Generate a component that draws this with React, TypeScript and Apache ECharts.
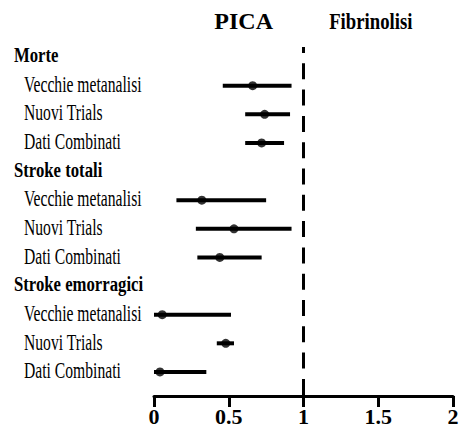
import React, { useEffect, useRef } from "react";
import * as echarts from "echarts";

// ---- data ----
const rowLabels = [
  "Morte",
  "Vecchie metanalisi",
  "Nuovi Trials",
  "Dati Combinati",
  "Stroke totali",
  "Vecchie metanalisi",
  "Nuovi Trials",
  "Dati Combinati",
  "Stroke emorragici",
  "Vecchie metanalisi",
  "Nuovi Trials",
  "Dati Combinati",
];
const isHeader = [true, false, false, false, true, false, false, false, true, false, false, false];
const estimates = [null, 0.66, 0.74, 0.72, null, 0.32, 0.535, 0.44, null, 0.055, 0.48, 0.04];
const lowerCI = [null, 0.46, 0.61, 0.61, null, 0.15, 0.28, 0.29, null, 0, 0.42, 0];
const upperCI = [null, 0.92, 0.91, 0.87, null, 0.75, 0.92, 0.72, null, 0.515, 0.535, 0.35];
const xTicks = [0, 0.5, 1, 1.5, 2];
const referenceValue = 1;
const panelTitles = ["PICA", "Fibrinolisi"];

const SERIF = "Liberation Serif";

export default function App() {
  const ref = useRef<HTMLDivElement>(null);

  useEffect(() => {
    document.body.style.margin = "0";
    if (!ref.current) return;
    const chart = echarts.init(ref.current, null, { renderer: "svg" });

    const ciData: any[] = [];
    const ptData: any[] = [];
    rowLabels.forEach((_, i) => {
      if (estimates[i] != null) {
        ciData.push([i, lowerCI[i], upperCI[i]]);
        ptData.push([estimates[i], i]);
      }
    });

    const option: any = {
      animation: false,
      textStyle: { fontFamily: SERIF },
      grid: { left: 154, right: 11, top: 47, bottom: 40 },
      xAxis: {
        type: "value",
        position: "bottom",
        min: xTicks[0],
        max: xTicks[xTicks.length - 1],
        interval: xTicks[1] - xTicks[0],
        axisLine: { show: true, onZero: false, lineStyle: { color: "#000", width: 3 } },
        axisTick: { show: true, length: 11, inside: false, lineStyle: { color: "#000", width: 3 } },
        splitLine: { show: false },
        axisLabel: {
          color: "#000",
          fontFamily: SERIF,
          fontWeight: "bold",
          fontSize: 22,
          margin: 9,
          formatter: (v: number) => String(v),
        },
      },
      yAxis: {
        type: "value",
        inverse: true,
        min: -0.35,
        max: 11.84,
        show: false,
      },
      series: [
        {
          type: "custom",
          data: ciData,
          encode: { x: [1, 2], y: 0 },
          renderItem: (params: any, api: any) => {
            const y = api.value(0);
            const p1 = api.coord([api.value(1), y]);
            const p2 = api.coord([api.value(2), y]);
            return {
              type: "line",
              shape: { x1: p1[0], y1: p1[1], x2: p2[0], y2: p2[1] },
              style: { stroke: "#000", lineWidth: 4 },
            };
          },
          z: 2,
        },
        {
          type: "scatter",
          data: ptData,
          symbol: "circle",
          symbolSize: 9,
          itemStyle: { color: "#000" },
          z: 3,
          markLine: {
            silent: true,
            symbol: ["none", "none"],
            label: { show: false },
            lineStyle: { color: "#000", width: 3, type: [16, 10.3], dashOffset: 10 },
            data: [{ xAxis: referenceValue }],
          },
        },
      ],
    };
    chart.setOption(option);

    const graphics: any[] = rowLabels.map((t, i) => {
      const py = chart.convertToPixel({ gridIndex: 0 }, [0, i])[1];
      const header = isHeader[i];
      return {
        type: "text",
        x: header ? 14 : 24,
        y: py - 2,
        scaleX: header ? 0.76 : 0.68,
        style: {
          text: t,
          fontFamily: SERIF,
          fontWeight: header ? "bold" : "normal",
          fontSize: header ? 22 : 23,
          fill: "#000",
          align: "left",
          verticalAlign: "middle",
        },
      };
    });
    const titleX = [
      chart.convertToPixel({ gridIndex: 0 }, [0.6, 0])[0],
      chart.convertToPixel({ gridIndex: 0 }, [1.45, 0])[0],
    ];
    const titleScale = [1.0, 0.78];
    panelTitles.forEach((t, k) => {
      graphics.push({
        type: "text",
        x: titleX[k],
        y: 21,
        scaleX: titleScale[k],
        style: {
          text: t,
          fontFamily: SERIF,
          fontWeight: "bold",
          fontSize: 24,
          fill: "#000",
          align: "center",
          verticalAlign: "middle",
        },
      });
    });
    chart.setOption({ graphic: graphics });

    return () => chart.dispose();
  }, []);

  return <div ref={ref} style={{ width: 464, height: 436 }} />;
}
